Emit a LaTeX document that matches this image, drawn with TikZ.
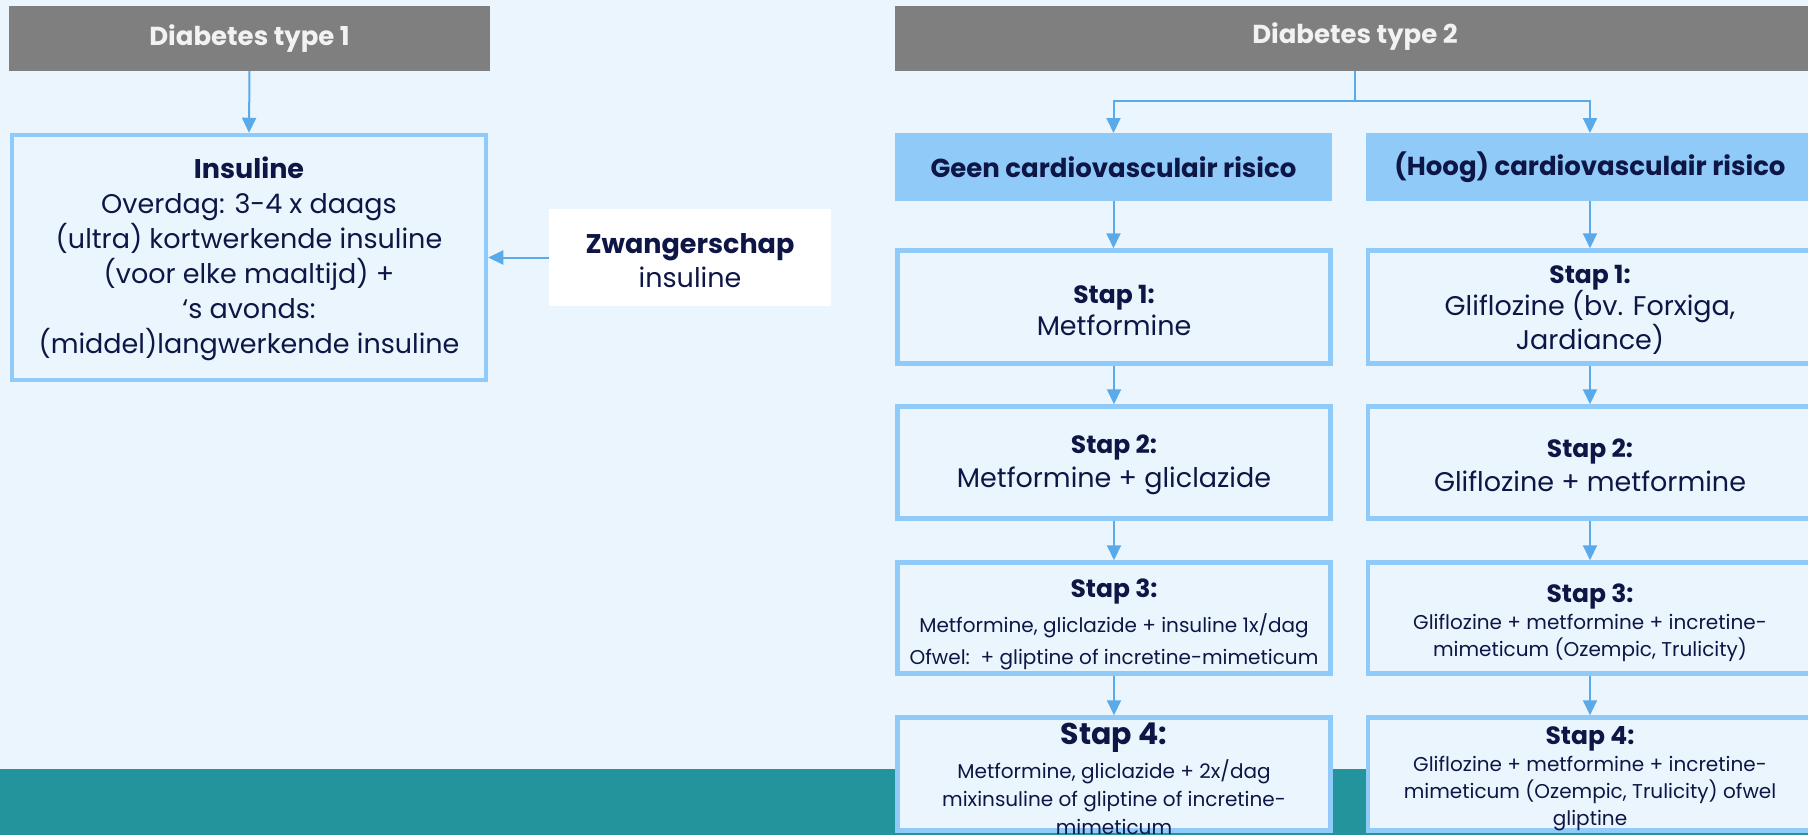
\documentclass[tikz,border=0pt]{standalone}
\usepackage{fontspec}
\setmainfont{Poppins}
\usetikzlibrary{arrows.meta}
\definecolor{bg}{HTML}{EBF5FE}
\definecolor{hdr}{HTML}{7F7F7F}
\definecolor{hdrtxt}{HTML}{F2F2F2}
\definecolor{lb}{HTML}{90CAF9}
\definecolor{navy}{HTML}{0E1645}
\definecolor{arr}{HTML}{5AA9E8}
\definecolor{tealband}{HTML}{23949C}
\newcommand{\stephd}{\bfseries\fontsize{25}{30}\selectfont}
\begin{document}
\begin{tikzpicture}[x=1pt,y=-1pt,
  hdrbox/.style={rectangle, fill=hdr, text=hdrtxt, font=\bfseries\fontsize{26}{30}\selectfont, inner sep=0pt, outer sep=0pt},
  riskbox/.style={rectangle, fill=lb, text=navy, font=\bfseries\fontsize{26}{30}\selectfont, inner sep=0pt, outer sep=0pt},
  stepbox/.style={rectangle, draw=lb, line width=4.5pt, fill=bg, inner sep=0pt},
  txt/.style={text=navy, align=center, inner sep=0pt},
  conn/.style={draw=arr, line width=2pt, -{Triangle[length=15pt,width=14pt]}},
]
\useasboundingbox (0,0) rectangle (1808,835);
\clip (0,0) rectangle (1808,835);
\fill[bg] (0,0) rectangle (1808,835);
\fill[tealband] (0,769) rectangle (1808,835);

% Diabetes type 1
\node[hdrbox, minimum width=481, minimum height=65] (dt1) at (249.5,38.5) {Diabetes type 1};
\node[stepbox, minimum width=474, minimum height=245] (ins) at (249,257.5) {};
\node[txt, font=\fontsize{27}{35}\selectfont] (inst) at (249,259)
  {{\bfseries Insuline}\\Overdag: 3-4 x daags\\(ultra) kortwerkende insuline\\(voor elke maaltijd) +\\‘s avonds:\\(middel)langwerkende insuline};
\node[rectangle, fill=white, minimum width=282, minimum height=97, inner sep=0pt] (zw) at (690,257.5) {};
\node[txt, font=\fontsize{27}{34}\selectfont] (zwt) at (690,261) {{\bfseries Zwangerschap}\\insuline};

\draw[conn] (dt1.south) -- (ins.north);
\draw[conn] (zw.west) -- (ins.east);

% Diabetes type 2
\node[hdrbox, minimum width=920, minimum height=65] (dt2) at (1355,38.5) {};
\node[text=hdrtxt, font=\bfseries\fontsize{26}{30}\selectfont, inner sep=0pt] (dt2t) at (1355,37) {Diabetes type 2};
\node[riskbox, minimum width=437, minimum height=68] (geen) at (1113.5,167) {Geen cardiovasculair risico};
\node[riskbox, minimum width=448, minimum height=68] (hoog) at (1590,167) {(Hoog) cardiovasculair risico};

\draw[conn] (dt2.south) -- ++(0,30) -| (geen.north);
\draw[conn] (dt2.south) -- ++(0,30) -| (hoog.north);

% left column
\node[stepbox, minimum width=433, minimum height=113] (s1l) at (1114,307) {};
\node[stepbox, minimum width=433, minimum height=112] (s2l) at (1114,462.5) {};
\node[stepbox, minimum width=433, minimum height=111] (s3l) at (1114,618) {};
\node[stepbox, minimum width=433, minimum height=113] (s4l) at (1114,774) {};
% right column
\node[stepbox, minimum width=444, minimum height=113] (s1r) at (1590,307) {};
\node[stepbox, minimum width=444, minimum height=112] (s2r) at (1590,462.5) {};
\node[stepbox, minimum width=444, minimum height=111] (s3r) at (1590,618) {};
\node[stepbox, minimum width=444, minimum height=113] (s4r) at (1590,774) {};

\node[txt, font=\fontsize{27}{32}\selectfont] (s1lt) at (1114,310) {{\stephd Stap 1:}\\Metformine};
\node[txt, font=\fontsize{27}{32}\selectfont] (s1rt) at (1590,310) {{\stephd Stap 1:}\\Gliflozine (bv. Forxiga,\\Jardiance)};
\node[txt, font=\fontsize{27}{34}\selectfont] (s2lt) at (1114,465) {{\stephd Stap 2:}\\Metformine + gliclazide};
\node[txt, font=\fontsize{27}{34}\selectfont] (s2rt) at (1590,465) {{\stephd Stap 2:}\\Gliflozine + metformine};
\node[txt, font=\fontsize{20}{32}\selectfont] (s3lt) at (1114,624) {{\stephd Stap 3:}\\[3pt]Metformine, gliclazide + insuline 1x/dag\\Ofwel:\ \ + gliptine of incretine-mimeticum};
\node[txt, font=\fontsize{20}{27}\selectfont] (s3rt) at (1590,623) {{\stephd Stap 3:}\\Gliflozine + metformine + incretine-\\mimeticum (Ozempic, Trulicity)};
\node[txt, font=\fontsize{20}{28}\selectfont] (s4lt) at (1114,779) {{\bfseries\fontsize{30}{32}\selectfont Stap 4:}\\[6pt]Metformine, gliclazide + 2x/dag\\mixinsuline of gliptine of incretine-\\mimeticum};
\node[txt, font=\fontsize{20}{27}\selectfont] (s4rt) at (1590,778.5) {{\stephd Stap 4:}\\Gliflozine + metformine + incretine-\\mimeticum (Ozempic, Trulicity) ofwel\\gliptine};

\draw[conn] (geen.south) -- (geen.south |- s1l.north);
\draw[conn] (s1l.south) -- (s2l.north);
\draw[conn] (s2l.south) -- (s3l.north);
\draw[conn] (s3l.south) -- (s4l.north);
\draw[conn] (hoog.south) -- (s1r.north);
\draw[conn] (s1r.south) -- (s2r.north);
\draw[conn] (s2r.south) -- (s3r.north);
\draw[conn] (s3r.south) -- (s4r.north);
\end{tikzpicture}
\end{document}
